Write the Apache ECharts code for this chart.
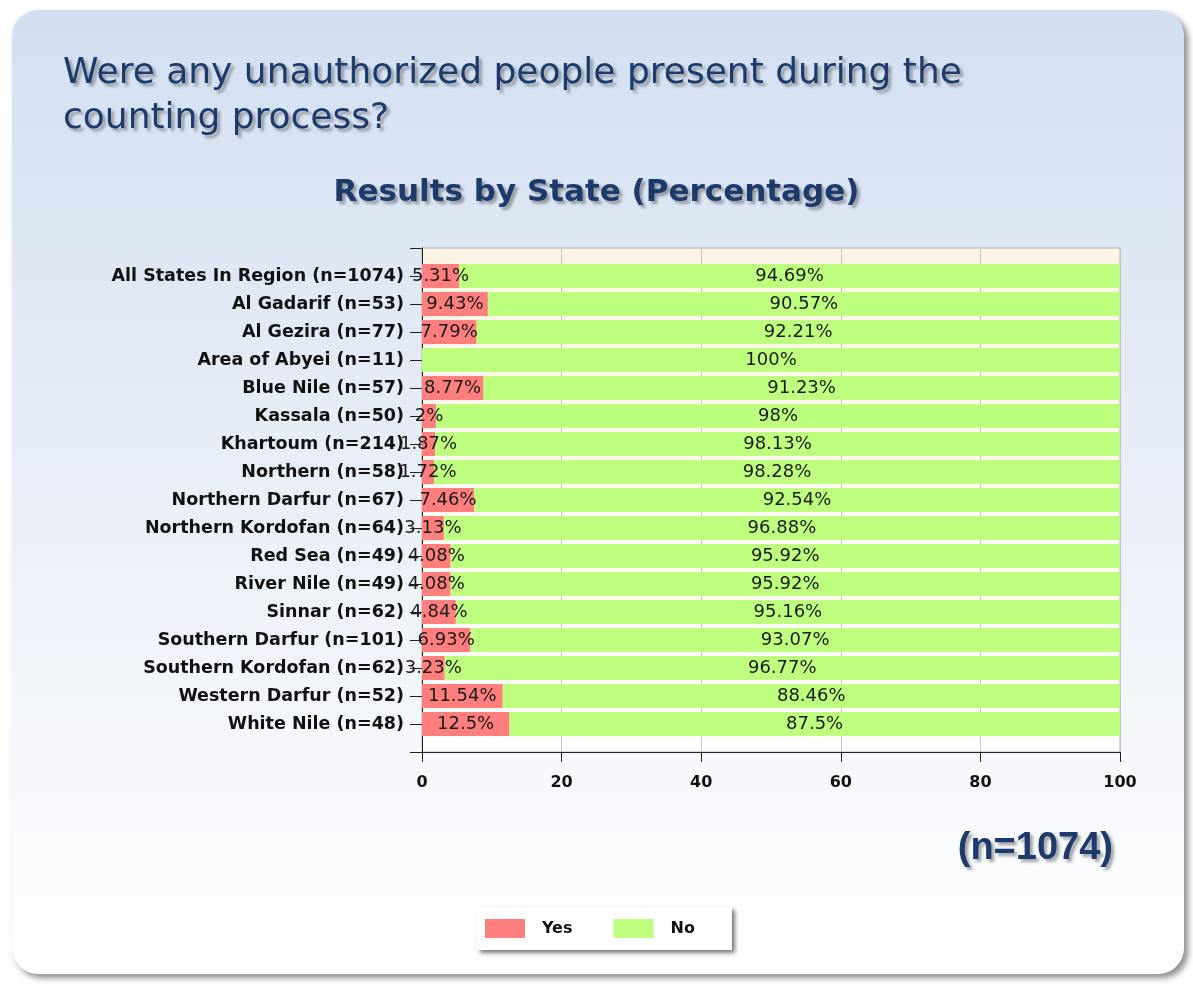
<!DOCTYPE html>
<html>
<head>
<meta charset="utf-8">
<script src="https://cdn.jsdelivr.net/npm/echarts@6/dist/echarts.min.js"></script>
<style>
  html, body { margin: 0; padding: 0; background: #ffffff; }
  #chart { width: 1193px; height: 989px; }
</style>
</head>
<body>
<div id="chart"></div>
<script>
const categories = [
  'All States In Region (n=1074)',
  'Al Gadarif (n=53)',
  'Al Gezira (n=77)',
  'Area of Abyei (n=11)',
  'Blue Nile (n=57)',
  'Kassala (n=50)',
  'Khartoum (n=214)',
  'Northern (n=58)',
  'Northern Darfur (n=67)',
  'Northern Kordofan (n=64)',
  'Red Sea (n=49)',
  'River Nile (n=49)',
  'Sinnar (n=62)',
  'Southern Darfur (n=101)',
  'Southern Kordofan (n=62)',
  'Western Darfur (n=52)',
  'White Nile (n=48)'
];
const yesValues = [5.31, 9.43, 7.79, 0, 8.77, 2, 1.87, 1.72, 7.46, 3.13, 4.08, 4.08, 4.84, 6.93, 3.23, 11.54, 12.5];
const noValues  = [94.69, 90.57, 92.21, 100, 91.23, 98, 98.13, 98.28, 92.54, 96.88, 95.92, 95.92, 95.16, 93.07, 96.77, 88.46, 87.5];
const seriesNames = ['Yes', 'No'];
const xTicks = { min: 0, max: 100, interval: 20 };
const mainTitle = 'Were any unauthorized people present during the\ncounting process?';
const subTitle = 'Results by State (Percentage)';
const sampleNote = '(n=1074)';

// padding categories (empty slot above and below, as in the reference)
const axisCats = [''].concat(categories, ['']);
const pad = arr => [null].concat(arr, [null]);

const FONT = 'DejaVu Sans';
const navy = '#1d3a6c';
const shadowText = { textShadowColor: 'rgba(60,60,60,0.45)', textShadowBlur: 3, textShadowOffsetX: 3, textShadowOffsetY: 3 };

const chart = echarts.init(document.getElementById('chart'), null, { renderer: 'canvas' });
chart.setOption({
  animation: false,
  backgroundColor: '#ffffff',
  graphic: [{
    type: 'rect',
    z: -10,
    shape: { x: 12, y: 10, width: 1172, height: 964, r: 26 },
    style: {
      fill: new echarts.graphic.LinearGradient(0, 0, 0, 1, [
        { offset: 0, color: '#d3dff0' },
        { offset: 0.6, color: '#eef2f9' },
        { offset: 1, color: '#ffffff' }
      ]),
      shadowColor: 'rgba(0,0,0,0.45)',
      shadowBlur: 6,
      shadowOffsetX: 4,
      shadowOffsetY: 4
    }
  }],
  title: [
    {
      text: mainTitle,
      left: 58, top: 46,
      textStyle: Object.assign({ fontFamily: FONT, fontSize: 36, fontWeight: 'normal', color: navy, lineHeight: 45 }, shadowText)
    },
    {
      text: subTitle,
      left: 'center', top: 172,
      textStyle: Object.assign({ fontFamily: FONT, fontSize: 31, fontWeight: 'bold', color: navy }, shadowText)
    },
    {
      text: sampleNote,
      right: 75, top: 825,
      textStyle: Object.assign({ fontFamily: 'Liberation Sans', fontSize: 38, fontWeight: 'bold', color: navy }, shadowText)
    }
  ],
  legend: {
    data: seriesNames,
    left: 477, top: 907,
    orient: 'horizontal',
    itemWidth: 40, itemHeight: 19,
    itemGap: 41,
    padding: [12, 37, 12, 8],
    backgroundColor: '#ffffff',
    shadowColor: 'rgba(0,0,0,0.5)',
    shadowBlur: 4,
    shadowOffsetX: 3,
    shadowOffsetY: 3,
    icon: 'rect',
    textStyle: { fontFamily: FONT, fontSize: 16, fontWeight: 'bold', color: '#111', padding: [0, 0, 0, 12] }
  },
  grid: {
    left: 422, right: 73, top: 248, bottom: 237,
    show: true,
    backgroundColor: new echarts.graphic.LinearGradient(0, 0, 0, 1, [
      { offset: 0, color: '#fdf4e6' },
      { offset: 1, color: '#ffffff' }
    ]),
    borderColor: '#b0b0b0',
    borderWidth: 1
  },
  xAxis: {
    type: 'value',
    min: xTicks.min, max: xTicks.max, interval: xTicks.interval,
    axisLine: { show: true, lineStyle: { color: '#222', width: 1 } },
    axisTick: { show: true, length: 10, lineStyle: { color: '#222' } },
    axisLabel: { fontFamily: FONT, fontSize: 16, fontWeight: 'bold', color: '#111', margin: 23 },
    splitLine: { show: true, lineStyle: { color: '#c4c4c4', width: 1 } }
  },
  yAxis: {
    type: 'category',
    inverse: true,
    boundaryGap: false,
    data: axisCats,
    axisLine: { show: true, lineStyle: { color: '#222', width: 1 } },
    axisTick: { show: true, length: 12, alignWithLabel: true, lineStyle: { color: '#222' } },
    axisLabel: { fontFamily: FONT, fontSize: 17.5, fontWeight: 'bold', color: '#111', margin: 18, interval: 0 },
    splitLine: { show: false }
  },
  series: [
    {
      name: seriesNames[0],
      type: 'bar',
      stack: 'total',
      data: pad(yesValues),
      barWidth: 24,
      itemStyle: { color: '#ff7f7f' },
      label: {
        show: true, position: 'inside',
        fontFamily: FONT, fontSize: 18, color: '#1a1a1a',
        formatter: p => (p.value ? p.value + '%' : '')
      },
      z: 3
    },
    {
      name: seriesNames[1],
      type: 'bar',
      stack: 'total',
      data: pad(noValues),
      barWidth: 24,
      itemStyle: { color: '#bfff7f' },
      label: {
        show: true, position: 'inside',
        fontFamily: FONT, fontSize: 18, color: '#1a1a1a',
        formatter: p => (p.value ? p.value + '%' : '')
      },
      z: 2
    }
  ]
});
</script>
</body>
</html>
